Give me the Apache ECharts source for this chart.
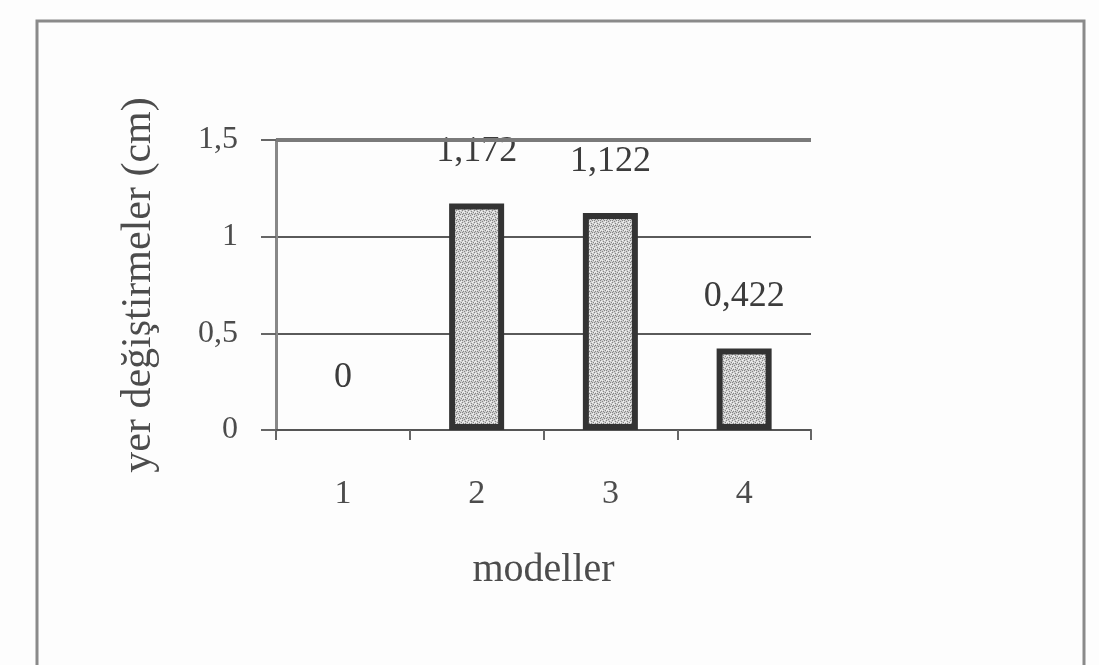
<!DOCTYPE html>
<html>
<head>
<meta charset="utf-8">
<style>
  html, body { margin: 0; padding: 0; background: #fdfdfd; }
  #chart { width: 1099px; height: 665px; }
</style>
<script src="https://cdn.jsdelivr.net/npm/echarts@6/dist/echarts.min.js"></script>
</head>
<body>
<div id="chart"></div>
<script>
// Data
const categories = ['1', '2', '3', '4'];
const values = [0, 1.172, 1.122, 0.422];
const yTicks = [0, 0.5, 1, 1.5];
const xAxisTitle = 'modeller';
const yAxisTitle = 'yer değiştirmeler (cm)';

// Turkish decimal comma
const fmt = v => String(v).replace('.', ',');

// Stippled gray fill for the bars (fixed dot layout)
function stipple() {
  const c = document.createElement('canvas');
  c.width = 6; c.height = 6;
  const g = c.getContext('2d');
  g.fillStyle = '#d0d0d0';
  g.fillRect(0, 0, 6, 6);
  const dark = [[0,0],[3,1],[1,3],[4,4],[2,5],[5,2],[0,4],[3,3]];
  g.fillStyle = '#858585';
  dark.forEach(([x, y]) => g.fillRect(x, y, 1, 1));
  const light = [[1,1],[4,0],[2,2],[5,5],[0,2]];
  g.fillStyle = '#f2f2f2';
  light.forEach(([x, y]) => g.fillRect(x, y, 1, 1));
  return c;
}

const chart = echarts.init(document.getElementById('chart'));
const serif = 'Liberation Serif';
const textGray = '#4c4c4c';

// a zero-height bar shows only its label, no outline
const barData = values.map(v => v === 0
  ? { value: v, itemStyle: { borderWidth: 0 } }
  : { value: v });

chart.setOption({
  backgroundColor: '#fdfdfd',
  animation: false,
  graphic: [{
    type: 'rect',
    shape: { x: 37, y: 21, width: 1047, height: 700 },
    style: { fill: 'none', stroke: '#8a8a8a', lineWidth: 3 }
  }],
  grid: { left: 276, top: 140, width: 535, height: 290 },
  xAxis: {
    type: 'category',
    data: categories,
    name: xAxisTitle,
    nameLocation: 'middle',
    nameGap: 120,
    nameTextStyle: { fontFamily: serif, fontSize: 40, color: textGray },
    axisLine: { lineStyle: { color: '#555', width: 2 } },
    axisTick: { show: true, length: 10, lineStyle: { color: '#666', width: 2 } },
    axisLabel: { fontFamily: serif, fontSize: 34, color: textGray, margin: 47 }
  },
  yAxis: {
    type: 'value',
    min: 0, max: 1.5, interval: 0.5,
    name: yAxisTitle,
    nameLocation: 'middle',
    nameGap: 116,
    nameTextStyle: { fontFamily: serif, fontSize: 42, color: textGray },
    axisLine: { show: true, lineStyle: { color: '#888', width: 3 } },
    axisTick: { show: true, length: 15, lineStyle: { color: '#666', width: 2 } },
    axisLabel: {
      fontFamily: serif, fontSize: 32, color: textGray, margin: 38,
      formatter: v => yTicks.includes(v) ? fmt(v) : ''
    },
    splitLine: { lineStyle: { color: '#5a5a5a', width: 2 } }
  },
  series: [{
    type: 'bar',
    data: barData,
    barWidth: 55,
    itemStyle: {
      color: { image: stipple(), repeat: 'repeat' },
      borderColor: '#333333',
      borderWidth: 6
    },
    label: {
      show: true,
      position: 'top',
      distance: 34,
      fontFamily: serif,
      fontSize: 36,
      color: '#3c3c3c',
      formatter: p => fmt(p.value)
    },
    markLine: {
      silent: true,
      symbol: 'none',
      label: { show: false },
      lineStyle: { color: '#7a7a7a', width: 4, type: 'solid' },
      data: [{ yAxis: 1.5 }]
    }
  }]
});
</script>
</body>
</html>
